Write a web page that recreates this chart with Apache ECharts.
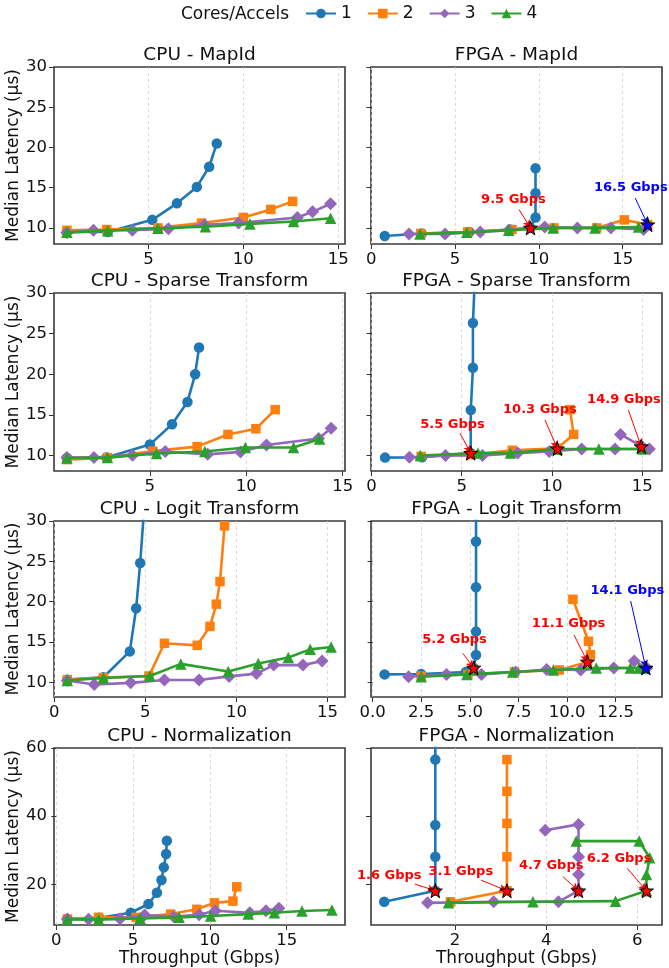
<!DOCTYPE html>
<html>
<head>
<meta charset="utf-8">
<script src="https://cdn.jsdelivr.net/npm/echarts@6/dist/echarts.min.js"></script>
<style>
  html, body { margin: 0; padding: 0; background: #fff; }
  #chart { width: 669px; height: 968px; }
</style>
</head>
<body>
<div id="chart"></div>
<script>
// series names / look
const seriesNames = ['1', '2', '3', '4']
const seriesColors = ['#1f77b4', '#ff7f0e', '#9467bd', '#2ca02c']
const seriesSymbols = ['circle', 'rect', 'diamond', 'triangle']
const seriesSymbolSizes = [10.5, 9.5, 13, 11.5]

// [throughput Gbps, median latency us] per cores/accels (1..4)
const cpuMapId = [
  [[0.7, 9.5], [2.85, 9.5], [5.2, 11.0], [6.5, 13.05], [7.55, 15.1], [8.2, 17.6], [8.6, 20.5]],
  [[0.7, 9.7], [2.8, 9.8], [5.5, 10.0], [7.8, 10.6], [10.0, 11.3], [11.45, 12.3], [12.6, 13.3]],
  [[0.7, 9.4], [2.1, 9.7], [4.15, 9.7], [6.05, 9.9], [7.95, 10.4], [9.75, 10.6], [12.85, 11.3], [13.65, 12.0], [14.6, 13.0]],
  [[0.7, 9.45], [2.85, 9.65], [5.5, 9.95], [8.0, 10.15], [10.35, 10.5], [12.65, 10.8], [14.6, 11.2]]
]
const fpgaMapId = [
  [[0.8, 9.0], [3.0, 9.3], [5.85, 9.5], [8.3, 9.8], [9.5, 10.0], [9.8, 11.3], [9.8, 14.3], [9.8, 17.4]],
  [[2.95, 9.3], [5.75, 9.5], [8.4, 9.8], [10.9, 10.0], [13.45, 10.0], [15.1, 11.0], [16.5, 10.4]],
  [[2.25, 9.25], [4.4, 9.25], [6.5, 9.5], [8.2, 9.7], [10.35, 10.1], [12.3, 10.0], [14.3, 10.0], [16.25, 9.8]],
  [[2.9, 9.25], [5.7, 9.45], [8.2, 9.7], [10.85, 10.0], [13.35, 10.0], [15.95, 10.1]]
]
const cpuSparse = [
  [[0.7, 9.7], [2.75, 9.75], [5.0, 11.35], [6.15, 13.85], [6.95, 16.6], [7.35, 20.0], [7.55, 23.3]],
  [[0.7, 9.5], [2.8, 9.75], [5.15, 10.55], [7.45, 11.1], [9.05, 12.6], [10.5, 13.3], [11.5, 15.65]],
  [[0.7, 9.75], [2.1, 9.75], [4.1, 10.05], [5.8, 10.5], [8.0, 10.15], [9.7, 10.45], [11.05, 11.3], [13.75, 12.1], [14.4, 13.35]],
  [[0.7, 9.7], [2.8, 9.75], [5.35, 10.25], [7.85, 10.5], [9.95, 11.0], [12.45, 11.0], [13.8, 12.05]]
]
const fpgaSparse = [
  [[0.75, 9.75], [2.8, 9.8], [5.5, 10.3], [5.5, 15.6], [5.62, 20.8], [5.62, 26.3], [5.71, 31]],
  [[2.75, 9.9], [5.5, 10.1], [7.8, 10.65], [10.3, 10.9], [11.2, 12.6], [11.0, 15.65]],
  [[2.1, 9.8], [4.1, 10.0], [6.15, 10.0], [8.1, 10.3], [9.85, 10.5], [11.65, 10.8], [13.5, 10.8], [15.4, 10.8], [15.0, 11.1], [13.8, 12.6]],
  [[2.7, 10.0], [5.9, 10.3], [7.7, 10.3], [10.3, 10.8], [12.6, 10.8], [15.05, 10.8]]
]
const cpuLogit = [
  [[0.72, 10.35], [2.7, 10.65], [4.15, 13.85], [4.5, 19.2], [4.72, 24.8], [5.0, 33.5]],
  [[0.72, 10.35], [2.7, 10.6], [5.2, 10.8], [6.05, 14.85], [7.85, 14.6], [8.55, 16.95], [8.9, 19.7], [9.1, 22.5], [9.35, 29.4]],
  [[0.72, 10.25], [2.2, 9.75], [4.2, 9.95], [6.05, 10.3], [7.95, 10.3], [9.6, 10.75], [11.1, 11.1], [12.05, 12.15], [13.65, 12.15], [14.7, 12.65]],
  [[0.72, 10.25], [2.7, 10.55], [5.25, 10.8], [6.95, 12.3], [9.55, 11.35], [11.2, 12.35], [12.85, 13.1], [14.05, 14.1], [15.2, 14.4]]
]
const fpgaLogit = [
  [[0.62, 11.0], [2.5, 11.05], [4.8, 11.3], [5.2, 11.8], [5.32, 13.4], [5.32, 16.3], [5.32, 21.8], [5.32, 27.45], [5.32, 40]],
  [[2.5, 10.8], [4.9, 11.0], [7.3, 11.3], [9.6, 11.55], [11.05, 12.55], [11.2, 13.45], [11.1, 15.1], [10.3, 20.3]],
  [[1.85, 10.7], [3.8, 11.0], [5.6, 11.0], [7.35, 11.3], [8.95, 11.6], [10.7, 11.55], [12.4, 11.8], [14.1, 11.8], [13.45, 12.65]],
  [[2.5, 10.7], [4.85, 11.0], [7.2, 11.3], [9.3, 11.55], [11.5, 11.8], [13.25, 11.8], [13.7, 11.8], [14.0, 11.8]]
]
const cpuNorm = [
  [[0.72, 9.85], [2.8, 10.2], [4.85, 11.7], [6.0, 14.25], [6.55, 17.55], [6.85, 21.3], [7.0, 25.0], [7.15, 28.9], [7.2, 32.8]],
  [[0.72, 9.85], [2.75, 10.35], [5.2, 10.35], [7.45, 11.3], [9.15, 12.7], [10.3, 14.6], [11.5, 15.1], [11.75, 19.3]],
  [[0.72, 9.85], [2.1, 9.75], [4.15, 9.95], [5.75, 11.0], [7.65, 10.55], [9.3, 11.1], [10.35, 12.3], [12.6, 11.7], [13.65, 12.3], [14.5, 13.0]],
  [[0.72, 9.75], [2.75, 9.75], [5.45, 10.05], [8.0, 10.35], [10.05, 10.75], [12.5, 11.3], [14.2, 11.7], [16.0, 12.2], [17.95, 12.5]]
]
const fpgaNorm = [
  [[0.45, 14.9], [1.57, 18.15], [1.57, 28.1], [1.57, 37.4], [1.57, 56.6], [1.57, 70]],
  [[1.9, 14.9], [3.14, 18.15], [3.14, 28.1], [3.14, 37.9], [3.14, 47.3], [3.14, 56.6]],
  [[1.4, 14.6], [2.85, 14.9], [4.27, 14.9], [4.71, 18.15], [4.71, 22.9], [4.71, 28.1], [4.71, 37.6], [3.98, 35.9]],
  [[1.86, 14.6], [3.71, 14.9], [5.52, 15.1], [6.2, 18.15], [6.2, 22.9], [6.27, 27.8], [6.04, 32.7], [4.66, 32.7]]
]

const panelTitles = ['CPU - MapId', 'FPGA - MapId', 'CPU - Sparse Transform', 'FPGA - Sparse Transform',
  'CPU - Logit Transform', 'FPGA - Logit Transform', 'CPU - Normalization', 'FPGA - Normalization']
const panelData = [cpuMapId, fpgaMapId, cpuSparse, fpgaSparse, cpuLogit, fpgaLogit, cpuNorm, fpgaNorm]

// axis ranges and ticks
const xRanges = [[0.02, 15.36], [-0.02, 17.35], [0.03, 15.12], [-0.03, 16.1],
  [-0.01, 15.96], [-0.08, 14.88], [-0.15, 18.8], [0.16, 6.54]]
const xTicks = [[5, 10, 15], [0, 5, 10, 15], [5, 10, 15], [0, 5, 10, 15],
  [0, 5, 10, 15], [0, 2.5, 5, 7.5, 10, 12.5], [0, 5, 10, 15], [2, 4, 6]]
const yRanges = [[8, 30], [8.1, 30], [8.2, 30], [8.1, 60]]
const yTicks = [[10, 15, 20, 25, 30], [10, 15, 20, 25, 30], [10, 15, 20, 25, 30], [20, 40, 60]]

// knee annotations: panel, label, colour, star point, text centre, arrow tail
const kneePanel = [1, 1, 3, 3, 3, 5, 5, 5, 7, 7, 7, 7]
const kneeLabel = ['9.5 Gbps', '16.5 Gbps', '5.5 Gbps', '10.3 Gbps', '14.9 Gbps', '5.2 Gbps', '11.1 Gbps', '14.1 Gbps',
  '1.6 Gbps', '3.1 Gbps', '4.7 Gbps', '6.2 Gbps']
const kneeColor = ['#ff0000', '#0000ff', '#ff0000', '#ff0000', '#ff0000', '#ff0000', '#ff0000', '#0000ff',
  '#ff0000', '#ff0000', '#ff0000', '#ff0000']
const kneePoint = [[9.5, 10.0], [16.5, 10.4], [5.5, 10.3], [10.3, 10.85], [14.95, 11.1], [5.2, 11.8], [11.05, 12.55], [14.05, 11.8],
  [1.57, 18.15], [3.14, 18.15], [4.71, 18.15], [6.2, 18.15]]
const kneeText = [[8.48, 13.5], [15.49, 14.95], [4.49, 13.86], [9.33, 15.63], [13.99, 16.94], [4.21, 15.25], [10.07, 17.23], [13.1, 21.36],
  [0.56, 22.54], [2.13, 23.7], [4.11, 25.46], [5.6, 27.6]]
const kneeFrom = [[8.82, 12.27], [15.75, 13.71], [4.9, 12.75], [9.61, 14.4], [14.23, 15.63], [4.64, 13.6], [10.36, 15.87], [13.27, 20.08],
  [1.12, 20.1], [2.57, 21.27], [4.37, 22.24], [5.78, 24.68]]

// layout
const colLeft = [54, 371]
const colWidth = [291, 291]
const rowTop = [67, 293, 521, 748]
const rowBottom = [244, 471, 697, 925]
const FONT = 'DejaVu Sans'
const TXT = '#111'
const starPath = 'path://M50,2 L61,36 L97,36 L68,57 L79,92 L50,71 L21,92 L32,57 L3,36 L39,36 Z'

const chart = echarts.init(document.getElementById('chart'))

const grids = []
const xAxes = []
const yAxes = []
const series = []
const graphics = []

panelData.forEach((panel, i) => {
  const row = Math.floor(i / 2)
  const col = i % 2
  grids.push({
    left: colLeft[col], top: rowTop[row], width: colWidth[col], height: rowBottom[row] - rowTop[row],
    show: true, borderColor: '#3a3a3a', borderWidth: 1.6, backgroundColor: 'transparent',
    outerBoundsMode: 'none', containLabel: false
  })
  xAxes.push({
    gridIndex: i, type: 'value', min: xRanges[i][0], max: xRanges[i][1],
    axisLine: { show: false },
    axisTick: { show: true, length: 5, customValues: xTicks[i], lineStyle: { color: '#333', width: 1 } },
    axisLabel: {
      customValues: xTicks[i], fontSize: 16.5, color: TXT, fontFamily: FONT, margin: 7,
      formatter: v => (i === 5 ? v.toFixed(1) : String(v))
    },
    splitLine: { show: true, lineStyle: { type: [3, 3], color: '#cfcfcf', width: 0.8 } },
    name: row === 3 ? 'Throughput (Gbps)' : '', nameLocation: 'middle', nameGap: 23,
    nameTextStyle: { fontSize: 17, color: TXT, fontFamily: FONT }
  })
  yAxes.push({
    gridIndex: i, type: 'value', min: yRanges[row][0], max: yRanges[row][1],
    axisLine: { show: false },
    axisTick: { show: true, length: 5, customValues: yTicks[row], lineStyle: { color: '#333', width: 1 } },
    axisLabel: { show: col === 0, customValues: yTicks[row], fontSize: 16.5, color: TXT, fontFamily: FONT, margin: 7 },
    splitLine: { show: false },
    name: col === 0 ? 'Median Latency (\u00b5s)' : '', nameLocation: 'middle', nameGap: 29,
    nameTextStyle: { fontSize: 17, color: TXT, fontFamily: FONT }
  })
  panel.forEach((pts, k) => {
    series.push({
      type: 'line', name: seriesNames[k], xAxisIndex: i, yAxisIndex: i, data: pts,
      symbol: seriesSymbols[k], symbolSize: seriesSymbolSizes[k], showSymbol: true,
      itemStyle: { color: seriesColors[k] }, lineStyle: { color: seriesColors[k], width: 2.6 },
      clip: true, z: 2 + k, animation: false, silent: true
    })
  })
  graphics.push({
    type: 'text', x: colLeft[col] + colWidth[col] / 2, y: rowTop[row] - 12,
    style: { text: panelTitles[i], fill: TXT, font: '18.5px "' + FONT + '"', align: 'center', verticalAlign: 'middle' }
  })
})

// knee stars and arrows
kneePanel.forEach((p, j) => {
  series.push({
    type: 'scatter', name: 'knee', xAxisIndex: p, yAxisIndex: p, z: 20, animation: false, silent: true,
    symbol: starPath, symbolSize: 14,
    data: [{ value: kneePoint[j], itemStyle: { color: kneeColor[j], borderColor: '#000', borderWidth: 1, opacity: 1 } }],
    markLine: {
      silent: true, animation: false, symbol: ['none', 'arrow'], symbolSize: [6, 8],
      label: { show: false },
      lineStyle: { color: kneeColor[j], width: 1, type: 'solid', opacity: 1 },
      data: [[{ coord: kneeFrom[j] }, { coord: kneePoint[j] }]]
    }
  })
})

// knee labels as plain text at data positions
const kneeLabelGraphics = () => kneePanel.map((p, j) => {
  const xy = chart.convertToPixel({ xAxisIndex: p, yAxisIndex: p }, kneeText[j])
  return {
    type: 'text', x: xy[0], y: xy[1], z: 100,
    style: {
      text: kneeLabel[j], fill: kneeColor[j], align: 'center', verticalAlign: 'middle',
      font: 'bold 13px "' + FONT + '"'
    }
  }
})

graphics.push({
  type: 'text', x: 181, y: 15,
  style: { text: 'Cores/Accels', fill: TXT, font: '17px "' + FONT + '"', align: 'left', verticalAlign: 'middle' }
})

chart.setOption({
  animation: false,
  backgroundColor: '#fff',
  textStyle: { fontFamily: FONT },
  grid: grids,
  xAxis: xAxes,
  yAxis: yAxes,
  legend: {
    data: seriesNames, left: 305, top: 5, padding: 0, itemWidth: 30, itemHeight: 12, itemGap: 15,
    selectedMode: false, textStyle: { fontSize: 17, color: TXT, fontFamily: FONT }
  },
  graphic: graphics,
  series: series
})
chart.setOption({ graphic: graphics.concat(kneeLabelGraphics()) })
</script>
</body>
</html>
